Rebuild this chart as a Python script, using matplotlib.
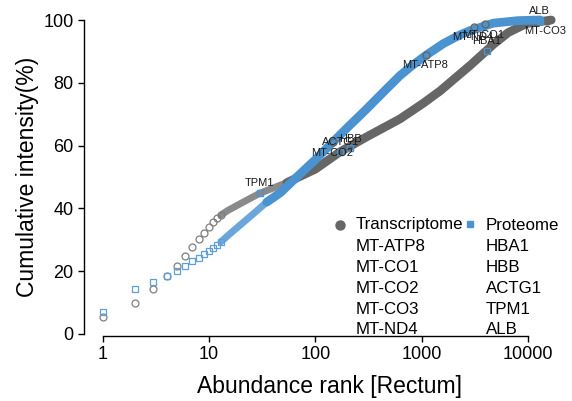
import matplotlib
matplotlib.use("Agg")
import matplotlib.pyplot as plt
from matplotlib.lines import Line2D

plt.rcParams['font.family'] = ['Liberation Sans', 'DejaVu Sans']

W, H = 572, 401

# --- Transcriptome cumulative intensity -------------------------------
# top-ranked transcripts, drawn as separate markers
tx_rank_pts = [1, 2, 3, 4, 5, 6, 7, 8, 9, 10, 11, 12, 13]
tx_cum_pts = [5.5, 9.8, 14.2, 18.5, 21.7, 24.9, 27.8, 30.4, 32.3, 34.0, 35.6, 36.8, 37.9]
# dense remainder of the curve
tx_rank_band = [13, 15, 21, 30, 54, 100, 172, 212, 304, 625, 1035, 1500, 1982, 2844,
                4080, 4700, 6500, 9700, 16500]
tx_cum_band = [37.9, 39.3, 42.0, 44.8, 48.2, 52.5, 58.1, 59.8, 62.8, 68.5, 73.5, 77.5,
               81.0, 85.5, 90.3, 92.2, 96.0, 98.9, 100.0]

# --- Proteome cumulative intensity ------------------------------------
pr_rank_pts = [1, 2, 3, 4, 5, 6, 7, 8, 9, 10, 11, 12, 13]
pr_cum_pts = [7.1, 14.2, 16.6, 18.5, 20.1, 21.7, 23.2, 24.3, 25.4, 26.4, 27.3, 28.3, 29.4]
pr_rank_band = [13, 16, 26, 35, 47, 67, 100, 150, 204, 300, 450, 625, 800, 1100, 1600,
                2300, 2844, 4700, 8000, 13000]
pr_cum_band = [29.4, 32.1, 38.2, 42.0, 45.0, 50.0, 55.5, 61.5, 66.0, 71.5, 77.5, 82.3,
               85.3, 88.8, 92.5, 95.3, 96.6, 99.0, 99.8, 100.0]

# --- Highlighted genes --------------------------------------------------
# top transcriptome genes, placed on the proteome curve
tx_genes = ["MT-ATP8", "MT-CO1", "MT-CO2", "MT-CO3", "MT-ND4"]
tx_gene_rank = [1100, 3900, 147, 15000, 3100]
tx_gene_cum = [89.0, 98.7, 61.1, 99.8, 97.9]
# top proteome genes, placed on the transcriptome curve
pr_genes = ["HBA1", "HBB", "ACTG1", "TPM1", "ALB"]
pr_gene_rank = [4080, 212, 172, 30, 12900]
pr_gene_cum = [90.1, 59.1, 58.1, 45.0, 99.8]

x_ticks = [1, 10, 100, 1000, 10000]
x_tick_labels = ["1", "10", "100", "1000", "10000"]
y_ticks = [0, 20, 40, 60, 80, 100]

GREY = "#666666"
GREY_PT = "#7f7f7f"
BLUE = "#4b92d0"
BLUE_PT = "#5e9fd8"


def fx(px):
    return px / W


def fy(py):
    return 1 - py / H


fig = plt.figure(figsize=(W / 100, H / 100), dpi=100)
ax = fig.add_axes([fx(84), fy(336), fx(560) - fx(84), fy(15) - fy(336)])
ax.set_xscale("log")
ax.set_xlim(10 ** -0.174, 10 ** 4.30)
ax.set_ylim(-0.64, 101.6)

# where the curve points are still loosely spaced, the band is lighter and thinner
TX_SPLIT = 4   # index of rank 30 in the band arrays
PR_SPLIT = 3   # index of rank 35

ax.plot(tx_rank_band[:TX_SPLIT + 1], tx_cum_band[:TX_SPLIT + 1], color="#8a8a8a",
        lw=5.0, solid_capstyle="round", zorder=2)
ax.plot(tx_rank_band[TX_SPLIT:], tx_cum_band[TX_SPLIT:], color=GREY, lw=6.3,
        solid_capstyle="round", solid_joinstyle="round", zorder=2)
ax.plot(tx_rank_pts, tx_cum_pts, ls="none", marker="o", ms=5.0, mfc="none",
        mec=GREY_PT, mew=0.9, zorder=2)

ax.plot(pr_rank_band[:PR_SPLIT + 1], pr_cum_band[:PR_SPLIT + 1], color="#6aa6da",
        lw=5.0, solid_capstyle="round", zorder=3)
ax.plot(pr_rank_band[PR_SPLIT:], pr_cum_band[PR_SPLIT:], color=BLUE, lw=6.3,
        solid_capstyle="round", solid_joinstyle="round", zorder=3)
ax.plot(pr_rank_pts, pr_cum_pts, ls="none", marker="s", ms=4.6, mfc="none",
        mec=BLUE_PT, mew=0.9, zorder=3)

# highlighted genes
ax.plot(tx_gene_rank, tx_gene_cum, ls="none", marker="o", ms=5.0, mfc="none",
        mec=GREY, mew=1.0, zorder=5)
ax.plot(pr_gene_rank, pr_gene_cum, ls="none", marker="s", ms=4.6, mfc="none",
        mec=BLUE, mew=1.0, zorder=5)
for name, r, c in zip(tx_genes, tx_gene_rank, tx_gene_cum):
    ax.annotate(name, (r, c), xytext=(-1, -7.5), textcoords="offset points",
                ha="center", va="center", fontsize=8, color="#1a1a1a", zorder=6)
for name, r, c in zip(pr_genes, pr_gene_rank, pr_gene_cum):
    ax.annotate(name, (r, c), xytext=(0, 7), textcoords="offset points",
                ha="center", va="center", fontsize=8, color="#1a1a1a", zorder=6)

# axes styling
for side in ("top", "right"):
    ax.spines[side].set_visible(False)
ax.spines["left"].set_bounds(0, 100)
ax.spines["bottom"].set_bounds(1, 10000)
for side in ("left", "bottom"):
    ax.spines[side].set_linewidth(1.0)
ax.set_xticks(x_ticks)
ax.set_xticklabels(x_tick_labels)
ax.xaxis.set_minor_locator(matplotlib.ticker.NullLocator())
ax.set_yticks(y_ticks)
ax.tick_params(axis="both", direction="out", length=4.5, width=1.0,
               labelsize=13, pad=3)

fig.text(fx(330), fy(386), "Abundance rank [Rectum]", ha="center", va="center",
         fontsize=16.5)
fig.text(fx(28), fy(177), "Cumulative intensity(%)", ha="center", va="center",
         rotation=90, fontsize=16.5)

# two-column legend with gene lists
row_y = [225, 246.5, 267.5, 288.5, 309, 329]
fig.add_artist(Line2D([fx(340)], [fy(225)], marker="o", ms=6.5, color=GREY,
                      ls="none", transform=fig.transFigure))
fig.add_artist(Line2D([fx(470)], [fy(224)], marker="s", ms=5.0, color=BLUE,
                      ls="none", transform=fig.transFigure))
fig.text(fx(356), fy(row_y[0]), "Transcriptome", ha="left", va="center", fontsize=12.2)
fig.text(fx(485.5), fy(row_y[0]), "Proteome", ha="left", va="center", fontsize=12.2)
for i in range(5):
    fig.text(fx(356), fy(row_y[i + 1]), tx_genes[i], ha="left", va="center",
             fontsize=12.2)
    fig.text(fx(485.5), fy(row_y[i + 1]), pr_genes[i], ha="left", va="center",
             fontsize=12.2)

fig.savefig("out.png", dpi=100)
